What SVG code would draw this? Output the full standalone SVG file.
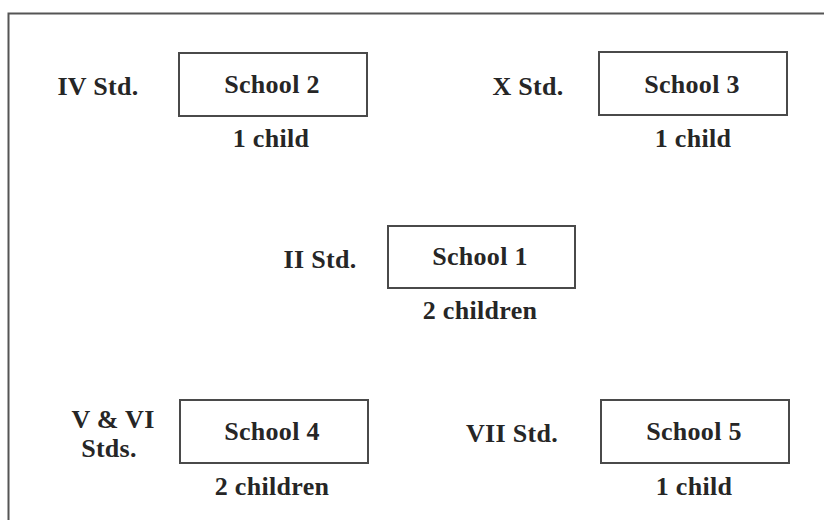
<svg xmlns="http://www.w3.org/2000/svg" width="824" height="520" viewBox="0 0 824 520">
  <style>
    .frame { fill: none; stroke: #555; stroke-width: 2; }
    .box { fill: #fff; stroke: #4a4a4a; stroke-width: 2; }
    text { font-family: "Liberation Serif", "Times New Roman", serif; font-weight: bold; font-size: 26px; letter-spacing: 0.3px; fill: #262626; }
    .c { text-anchor: middle; }
  </style>
  <rect width="824" height="520" fill="#fff"/>
  <!-- page frame: only top and left edges fall inside the view -->
  <path class="frame" d="M8.5,520 V13.5 H824"/>

  <g id="connectors"/>

  <g id="school2">
    <text x="98" y="95" class="c">IV Std.</text>
    <rect class="box" x="179" y="53" width="188" height="63"/>
    <text x="272" y="93" class="c">School 2</text>
    <text x="271" y="147" class="c">1 child</text>
  </g>

  <g id="school3">
    <text x="528" y="95" class="c">X Std.</text>
    <rect class="box" x="599" y="52" width="188" height="63"/>
    <text x="692" y="93" class="c">School 3</text>
    <text x="693" y="147" class="c">1 child</text>
  </g>

  <g id="school1">
    <text x="320" y="268" class="c">II Std.</text>
    <rect class="box" x="388" y="226" width="187" height="62"/>
    <text x="480" y="265" class="c">School 1</text>
    <text x="480" y="319" class="c">2 children</text>
  </g>

  <g id="school4">
    <text x="113" y="428" class="c">V &amp; VI</text>
    <text x="109" y="457" class="c">Stds.</text>
    <rect class="box" x="180" y="400" width="188" height="63"/>
    <text x="272" y="440" class="c">School 4</text>
    <text x="272" y="495" class="c">2 children</text>
  </g>

  <g id="school5">
    <text x="512" y="442" class="c">VII Std.</text>
    <rect class="box" x="601" y="400" width="188" height="63"/>
    <text x="694" y="440" class="c">School 5</text>
    <text x="694" y="495" class="c">1 child</text>
  </g>
</svg>
